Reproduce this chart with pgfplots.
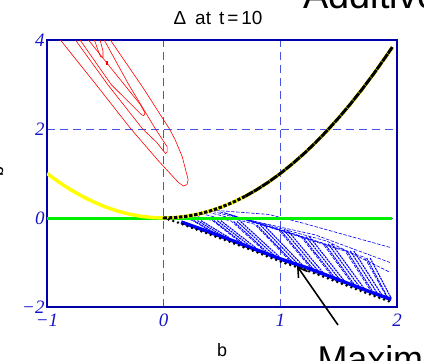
\documentclass[border=0pt]{standalone}
\usepackage{pgfplots}
\pgfplotsset{compat=1.18}
\usepackage{fontspec}
\setmainfont{Liberation Sans}
\newfontfamily\tnr{Liberation Serif}
\usetikzlibrary{arrows.meta}
\definecolor{axblue}{RGB}{0,0,170}
\definecolor{gridblue}{RGB}{70,85,225}
\definecolor{tickblue}{RGB}{20,20,200}
\definecolor{mgreen}{RGB}{0,240,0}
\definecolor{myellow}{RGB}{255,255,0}
\definecolor{mblue}{RGB}{0,0,255}
\begin{document}
\begin{tikzpicture}[x=1bp,y=1bp]
\useasboundingbox (0,0) rectangle (424,361);
\clip (0,0) rectangle (424,361);
\begin{axis}[at={(47bp,54bp)}, anchor=south west, scale only axis,
  width=350bp, height=267bp,
  xmin=-1, xmax=2, ymin=-2, ymax=4,
  xtick={-1,0,1,2}, ytick={-2,0,2,4},
  xticklabels={−1,0,1,2}, yticklabels={−2,0,2,4},
  major tick length=0pt,
  xmajorgrids, ymajorgrids,
  major grid style={color=gridblue, dash pattern=on 8bp off 5bp, line width=0.9bp},
  axis line style={axblue, line width=1.6bp},
  tick label style={font=\tnr\itshape\fontsize{19}{19}\selectfont, text=tickblue},
  xticklabel style={yshift=-3bp},
  yticklabel style={xshift=1bp},
  blueh/.style={mblue, line width=0.6bp, dash pattern=on 3.5bp off 1.5bp},
  blues/.style={mblue, line width=1.1bp, dash pattern=on 2bp off 0.8bp},
  redc/.style={red, line width=0.6bp},
]
% blue contour family (shallow parts)
\addplot[blueh] coordinates {(0.15,0.02) (0.25,-0.06) (0.50,-0.45)};
\addplot[blueh] coordinates {(0.25,0.06) (0.42,-0.06) (0.72,-0.68)};
\addplot[blueh] coordinates {(0.32,0.10) (0.58,-0.07) (0.92,-0.88)};
\addplot[blueh] coordinates {(0.38,0.13) (0.78,-0.14) (1.12,-1.07)};
\addplot[blueh] coordinates {(0.42,0.15) (0.98,-0.25) (1.30,-1.25)};
\addplot[blueh] coordinates {(0.48,0.14) (1.17,-0.40) (1.48,-1.43)};
\addplot[blueh] coordinates {(0.52,0.12) (1.36,-0.56) (1.65,-1.60)};
\addplot[blueh] coordinates {(0.55,0.09) (1.55,-0.72) (1.80,-1.74)};
\addplot[blueh] coordinates {(0.58,0.06) (1.72,-0.88) (1.93,-1.86)};
\addplot[blueh] coordinates {(0.45,0.17) (0.90,0.08) (1.20,-0.12) (1.94,-0.66)};
\addplot[blueh] coordinates {(0.60,0.03) (1.30,-0.38) (1.94,-1.00)};
\addplot[blueh] coordinates {(0.70,-0.02) (1.40,-0.52) (1.94,-1.22)};
% blue steep streaks (ribbons of three lines)
\addplot[blues] coordinates {(0.26,-0.06) (0.50,-0.44)};
\addplot[blues] coordinates {(0.29,-0.06) (0.53,-0.44)};
\addplot[blues] coordinates {(0.32,-0.06) (0.56,-0.44)};
\addplot[blues] coordinates {(0.43,-0.06) (0.73,-0.67)};
\addplot[blues] coordinates {(0.46,-0.06) (0.76,-0.67)};
\addplot[blues] coordinates {(0.49,-0.06) (0.79,-0.67)};
\addplot[blues] coordinates {(0.60,-0.08) (0.93,-0.87)};
\addplot[blues] coordinates {(0.63,-0.08) (0.96,-0.87)};
\addplot[blues] coordinates {(0.66,-0.08) (0.99,-0.87)};
\addplot[blues] coordinates {(0.80,-0.16) (1.13,-1.06)};
\addplot[blues] coordinates {(0.83,-0.16) (1.16,-1.06)};
\addplot[blues] coordinates {(0.86,-0.16) (1.19,-1.06)};
\addplot[blues] coordinates {(1.00,-0.27) (1.31,-1.24)};
\addplot[blues] coordinates {(1.03,-0.27) (1.34,-1.24)};
\addplot[blues] coordinates {(1.06,-0.27) (1.37,-1.24)};
\addplot[blues] coordinates {(1.19,-0.42) (1.49,-1.42)};
\addplot[blues] coordinates {(1.22,-0.42) (1.52,-1.42)};
\addplot[blues] coordinates {(1.25,-0.42) (1.55,-1.42)};
\addplot[blues] coordinates {(1.38,-0.58) (1.66,-1.59)};
\addplot[blues] coordinates {(1.41,-0.58) (1.69,-1.59)};
\addplot[blues] coordinates {(1.44,-0.58) (1.72,-1.59)};
\addplot[blues] coordinates {(1.57,-0.74) (1.81,-1.73)};
\addplot[blues] coordinates {(1.60,-0.74) (1.84,-1.73)};
\addplot[blues] coordinates {(1.63,-0.74) (1.87,-1.73)};
\addplot[blues] coordinates {(1.74,-0.90) (1.93,-1.84)};
\addplot[blues] coordinates {(1.77,-0.90) (1.95,-1.80)};
% blue band along the lower boundary
\addplot[mblue, line width=3.5bp] coordinates {(0.15,-0.09) (0.3,-0.23) (0.5,-0.42) (0.75,-0.67) (1.0,-0.92) (1.25,-1.14) (1.5,-1.39) (1.75,-1.64) (1.95,-1.83)};
% red contours
\addplot[redc] coordinates {(-0.90,4.05) (-0.58,3.0) (-0.28,2.0) (-0.05,1.30) (0.08,0.93) (0.13,0.79) (0.17,0.72) (0.20,0.75) (0.21,0.86) (0.16,1.37) (0.10,1.75) (0.05,2.0) (-0.18,2.94) (-0.47,4.05)};
\addplot[redc] coordinates {(-0.77,4.05) (-0.48,3.0) (-0.18,2.0) (-0.06,1.7) (0.0,1.5) (0.017,1.45) (0.03,1.48) (0.03,1.6) (-0.07,2.0) (-0.30,3.0) (-0.52,4.05)};
\addplot[redc] coordinates {(-0.73,4.05) (-0.45,3.0) (-0.24,2.45) (-0.19,2.32) (-0.17,2.30) (-0.16,2.36) (-0.20,2.55) (-0.40,3.2) (-0.66,4.05)};
\addplot[redc] coordinates {(-0.60,4.05) (-0.56,3.75) (-0.54,3.62) (-0.52,3.61) (-0.52,3.75) (-0.55,4.05)};
\addplot[redc] coordinates {(-0.495,3.45) (-0.485,3.45) (-0.485,3.52) (-0.495,3.52) (-0.495,3.45)};
% green
\addplot[mgreen, line width=3bp] coordinates {(-1,0) (1.96,0)};
% yellow b^2
\addplot[myellow, line width=3.5bp] coordinates {(-1,1) (-0.9,0.81) (-0.8,0.64) (-0.7,0.49) (-0.6,0.36) (-0.5,0.25) (-0.4,0.16) (-0.3,0.09) (-0.2,0.04) (-0.1,0.01) (0,0) (0.1,0.01) (0.2,0.04) (0.3,0.09) (0.4,0.16) (0.5,0.25) (0.6,0.36) (0.7,0.49) (0.8,0.64) (0.9,0.81) (1.0,1.0) (1.1,1.21) (1.2,1.44) (1.3,1.69) (1.4,1.96) (1.5,2.25) (1.6,2.56) (1.7,2.89) (1.8,3.24) (1.9,3.61) (1.96,3.84)};
% black dashed over the yellow
\addplot[black, line width=3bp, dash pattern=on 3.5bp off 1.6bp] coordinates {(0,0) (0.1,0.01) (0.2,0.04) (0.3,0.09) (0.4,0.16) (0.5,0.25) (0.6,0.36) (0.7,0.49)};
\addplot[black, line width=3bp, dash pattern=on 9bp off 0.7bp] coordinates {(0.7,0.49) (0.8,0.64) (0.9,0.81) (1.0,1.0) (1.1,1.21) (1.2,1.44) (1.3,1.69) (1.4,1.96) (1.5,2.25) (1.6,2.56) (1.7,2.89) (1.8,3.24) (1.9,3.61) (1.96,3.84)};
% black dotted lower boundary
\addplot[black, line width=2.8bp, line cap=round, dash pattern=on 0bp off 5bp] coordinates {(0,0) (0.1,-0.08) (0.2,-0.18) (0.3,-0.28) (0.5,-0.47) (0.75,-0.72) (1.0,-0.98) (1.25,-1.2) (1.5,-1.45) (1.75,-1.7) (1.96,-1.9)};
\end{axis}
% texts and annotations
\node[font=\fontsize{19}{19}\selectfont] at (218,343) {Δ\hspace{9bp}at\hspace{8bp}t\hspace{3bp}=\hspace{3bp}10};
\node[font=\fontsize{38}{38}\selectfont, anchor=base west] at (300,353) {Additive};
\node[font=\fontsize{36}{36}\selectfont, anchor=base west] at (314,-10) {Maximum};
\node[font=\fontsize{18}{18}\selectfont] at (222,11) {b};
\node[font=\fontsize{18}{18}\selectfont, rotate=90, anchor=base] at (3,189) {b};
\draw[line width=1.6bp, -{Straight Barb[length=9bp,width=11bp]}] (338,36) -- (297,95);
\end{tikzpicture}
\end{document}
